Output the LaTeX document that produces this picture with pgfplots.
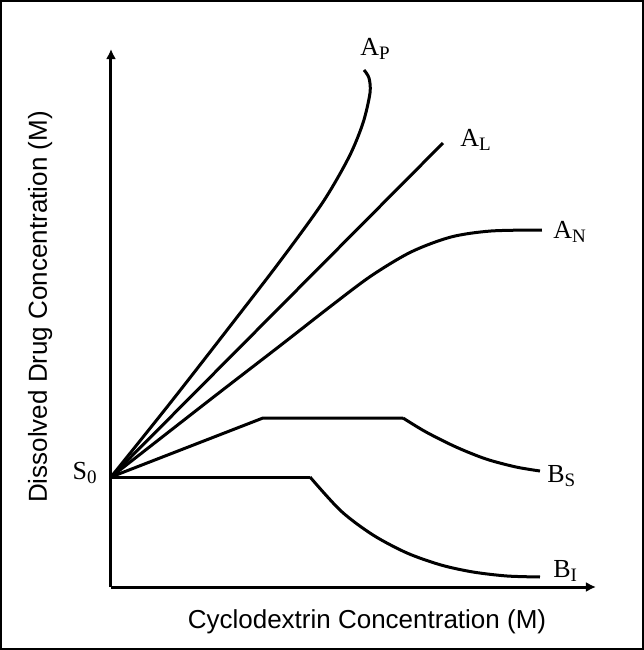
\documentclass[border=0pt]{standalone}
\usepackage{fontspec}
\setmainfont{Liberation Serif}
\setsansfont{Liberation Sans}
\usepackage{pgfplots}
\pgfplotsset{compat=1.18}
\usetikzlibrary{arrows.meta}

% curve name with a lowered, smaller subscript letter
\newcommand{\lbl}[2]{#1\raisebox{-0.35ex}{\fontsize{9.5}{10}\selectfont #2}}

\begin{document}
\begin{tikzpicture}[
  lab/.style={font=\fontsize{13}{15}\selectfont, inner sep=0pt, anchor=base west},
  axlab/.style={font=\sffamily\fontsize{13}{15}\selectfont, inner sep=0pt, anchor=base},
  crv/.style={line width=1.5pt, black, line join=round, mark=none},
]
\begin{axis}[
  x=0.5pt, y=0.5pt,
  xmin=0, xmax=485, ymin=0, ymax=538,
  axis lines=left,
  axis line style={line width=1.5pt, -{Latex[length=5pt,width=5pt]}},
  xtick=\empty, ytick=\empty,
  clip=false,
]
% A_P
\addplot[crv, smooth] coordinates {
  (0,110) (60,185) (120,262) (170,327) (212,385) (238,430)
  (252,464) (259,494) (258,509) (253,517)};
% A_L
\addplot[crv] coordinates {(0,110) (332,444)};
% A_N
\addplot[crv, smooth] coordinates {
  (0,110) (100,188) (170,242) (220,281) (260,311) (300,335)
  (340,350) (380,356) (431,357)};
% B_S
\addplot[crv] coordinates {(0,110) (152,169) (292,169)};
\addplot[crv, smooth] coordinates {
  (292,169) (315,155) (345,140) (375,128) (405,120) (429,116)};
% B_I
\addplot[crv] coordinates {(0,110) (199,110)};
\addplot[crv, smooth] coordinates {
  (199,110) (230,76) (262,52) (296,34) (330,22) (362,15)
  (396,11) (429,10)};

\node[lab] at (249,532) {\lbl{A}{P}};
\node[lab] at (349,441) {\lbl{A}{L}};
\node[lab] at (442,349) {\lbl{A}{N}};
\node[lab] at (436,105) {\lbl{B}{S}};
\node[lab] at (442,10) {\lbl{B}{I}};
\node[lab, anchor=base east] at (-14,108) {\lbl{S}{0}};

\node[axlab] at (256,-41) {Cyclodextrin Concentration (M)};
\node[axlab, rotate=90] at (-64,280) {Dissolved Drug Concentration (M)};

\draw[line width=1pt] (-110,-62) rectangle (532,586);
\end{axis}
\end{tikzpicture}
\end{document}
